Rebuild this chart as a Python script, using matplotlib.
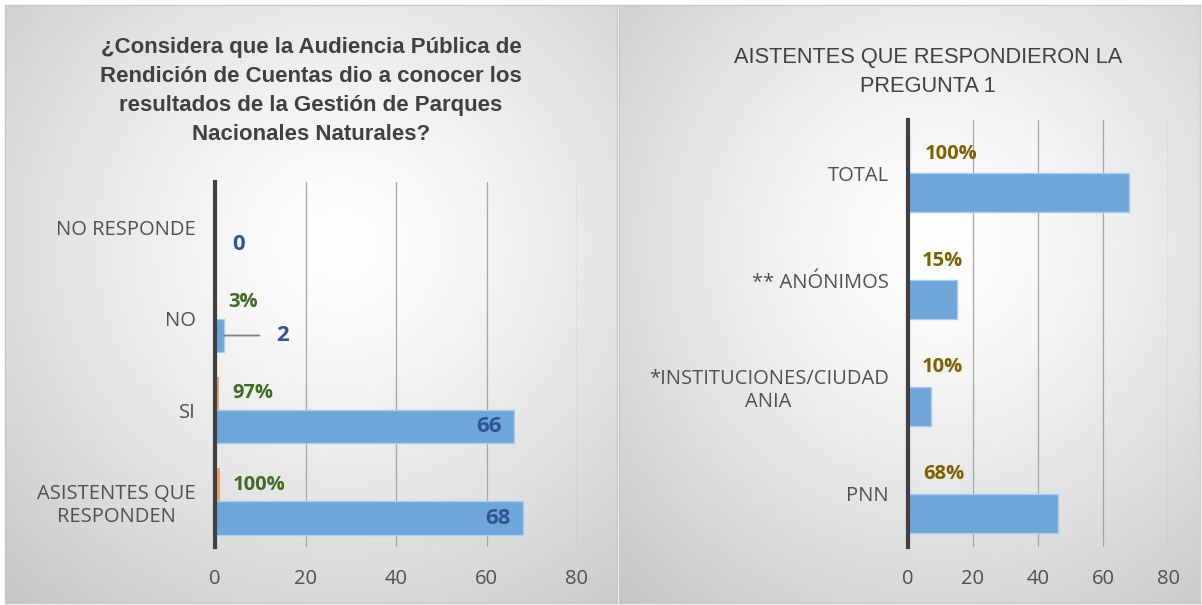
import numpy as np
import matplotlib.pyplot as plt

# ---- data ----
left_title = "¿Considera que la Audiencia Pública de\nRendición de Cuentas dio a conocer los\nresultados de la Gestión de Parques\nNacionales Naturales?"
left_cats = ["ASISTENTES QUE\nRESPONDEN", "SI", "NO", "NO RESPONDE"]
left_counts = [68, 66, 2, 0]
left_pct = [1.00, 0.97, 0.03, 0.0]
left_pct_labels = ["100%", "97%", "3%", ""]

right_title = "AISTENTES QUE RESPONDIERON LA\nPREGUNTA 1"
right_cats = ["PNN", "*INSTITUCIONES/CIUDAD\nANIA", "** ANÓNIMOS", "TOTAL"]
right_counts = [46, 7, 15, 68]
right_pct = [0.68, 0.10, 0.15, 1.00]
right_pct_labels = ["68%", "10%", "15%", "100%"]

xticks = [0, 20, 40, 60, 80]

BLUE = '#6fa6da'
BLUE_EDGE = '#a9cbee'
ORANGE = '#f0a06a'
BLUE_TXT = '#2f5597'
GREEN_TXT = '#3e6b25'
GOLD_TXT = '#7f6000'
TXT = '#404040'
TICK = '#505050'

plt.rcParams['font.family'] = ['Open Sans', 'DejaVu Sans']

fig = plt.figure(figsize=(12.02, 6.05), dpi=100)
W, H = 1202, 605


def px_rect(x0, y0, x1, y1):
    return [x0 / W, 1 - y1 / H, (x1 - x0) / W, (y1 - y0) / H]


def gradient_panel(rect, cx, cy):
    bg = fig.add_axes(rect, zorder=-5)
    xx, yy = np.meshgrid(np.linspace(0, 1, 300), np.linspace(0, 1, 300))
    r = np.sqrt((xx - cx) ** 2 + (yy - cy) ** 2)
    r = np.clip(r / 0.85, 0, 1)
    shade = 1.0 - 0.24 * r ** 1.3
    img = np.dstack([shade, shade, shade])
    bg.imshow(img, extent=[0, 1, 0, 1], aspect='auto', origin='upper')
    bg.set_xticks([])
    bg.set_yticks([])
    for s in bg.spines.values():
        s.set_color('#c8c8c8')
        s.set_linewidth(1)


gradient_panel(px_rect(5, 5, 617, 603), 0.55, 0.40)
gradient_panel(px_rect(619, 5, 1200, 603), 0.55, 0.40)

h = 0.365


def style_axis(ax, cats):
    ax.set_facecolor('none')
    ax.set_xlim(0, 80)
    ax.set_ylim(-0.5, len(cats) - 0.5)
    ax.set_xticks(xticks)
    ax.set_yticks(range(len(cats)))
    ax.set_yticklabels(cats, ha='right', multialignment='center')
    ax.tick_params(axis='both', length=0, labelsize=14.5, colors=TICK)
    ax.tick_params(axis='x', pad=16)
    ax.tick_params(axis='y', pad=14)
    ax.grid(axis='x', color='#a6a6a6', linewidth=0.9)
    ax.set_axisbelow(True)
    for s in ['top', 'right', 'bottom']:
        ax.spines[s].set_visible(False)
    ax.spines['left'].set_color('#404040')
    ax.spines['left'].set_linewidth(3)
    ax.spines['left'].set_zorder(5)


# ---- left chart ----
axl = fig.add_axes(px_rect(215, 182, 577, 547))
y = np.arange(len(left_cats))
axl.barh(y + h / 2, left_pct, height=h, color=ORANGE, zorder=2)
axl.barh(y - h / 2, left_counts, height=h, color=BLUE, edgecolor=BLUE_EDGE, linewidth=1, zorder=2)
style_axis(axl, left_cats)
for i, (v, lab) in enumerate(zip(left_pct, left_pct_labels)):
    if lab:
        axl.annotate(lab, xy=(v, y[i] + h / 2), xytext=(13, 0), textcoords='offset pixels',
                     ha='left', va='center', fontsize=14.5, fontweight='bold', color=GREEN_TXT)
for i, v in enumerate(left_counts):
    yy = y[i] - h / 2
    if v >= 20:
        axl.annotate(str(v), xy=(v, yy), xytext=(-12, 0), textcoords='offset pixels',
                     ha='right', va='center', fontsize=16, fontweight='bold', color=BLUE_TXT)
    elif v > 0:
        axl.annotate(str(v), xy=(v, yy), xytext=(52, 0), textcoords='offset pixels',
                     ha='left', va='center', fontsize=16, fontweight='bold', color=BLUE_TXT,
                     arrowprops=dict(arrowstyle='-', color='#7f7f7f', lw=1.3, shrinkA=10, shrinkB=0))
    else:
        axl.annotate(str(v), xy=(v, yy), xytext=(17, 0), textcoords='offset pixels',
                     ha='left', va='center', fontsize=16, fontweight='bold', color=BLUE_TXT)

fig.text(311 / W, 1 - 91 / H, left_title, ha='center', va='center', fontsize=16,
         fontweight='bold', color=TXT, family='Liberation Sans', linespacing=1.52)

# ---- right chart ----
axr = fig.add_axes(px_rect(908, 120, 1168, 547))
y = np.arange(len(right_cats))
axr.barh(y + h / 2, right_pct, height=h, color='#e9e9e9', zorder=2)
axr.barh(y - h / 2, right_counts, height=h, color=BLUE, edgecolor=BLUE_EDGE, linewidth=1, zorder=2)
style_axis(axr, right_cats)
for i, (v, lab) in enumerate(zip(right_pct, right_pct_labels)):
    axr.annotate(lab, xy=(v, y[i] + h / 2), xytext=(13, 0), textcoords='offset pixels',
                 ha='left', va='center', fontsize=14.5, fontweight='bold', color=GOLD_TXT)

fig.text(928 / W, 1 - 72 / H, right_title, ha='center', va='center', fontsize=15.7,
         color=TXT, family='Liberation Sans', linespacing=1.52)

fig.savefig("out.png", dpi=100)
